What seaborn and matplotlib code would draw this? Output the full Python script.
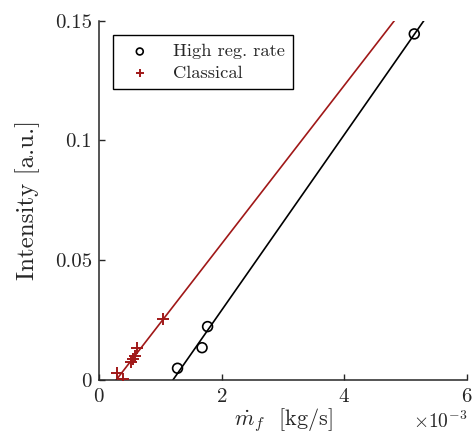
import numpy as np
import pandas as pd
import matplotlib
matplotlib.use("Agg")
import matplotlib.pyplot as plt
from matplotlib.ticker import ScalarFormatter, FuncFormatter
import seaborn as sns

# Measured fuel mass flow (kg/s, in units of 1e-3) and emission intensity
high_mdot = [1.28, 1.68, 1.77, 5.14]
high_int = [0.0049, 0.0135, 0.0223, 0.1445]
classic_mdot = [0.29, 0.39, 0.52, 0.56, 0.59, 0.62, 1.05]
classic_int = [0.0028, 0.0005, 0.0077, 0.0086, 0.0100, 0.0132, 0.0255]

series_labels = ["High reg. rate", "Classical"]
x_ticks = [0, 2, 4, 6]
y_ticks = [0, 0.05, 0.1, 0.15]

black = "#000000"
red = "#A01818"

sns.set_style("ticks")
plt.rcParams.update({
    "font.family": "serif",
    "font.serif": ["cmr10"],
    "mathtext.fontset": "cm",
    "axes.formatter.use_mathtext": True,
    "axes.unicode_minus": False,
})

scale = 1e-3
df_high = pd.DataFrame({"mdot": np.array(high_mdot) * scale, "I": high_int})
df_cls = pd.DataFrame({"mdot": np.array(classic_mdot) * scale, "I": classic_int})

fig = plt.figure(figsize=(4.74, 4.41), dpi=100)
ax = fig.add_axes([0.2089, 0.1383, 0.7764, 0.8147])

# least-squares fit lines across the full x range (clipped by the axes)
xs = np.array([0.0, 6.0]) * scale
for df, col in [(df_high, black), (df_cls, red)]:
    k, b = np.polyfit(df["mdot"], df["I"], 1)
    fit = pd.DataFrame({"mdot": xs, "I": k * xs + b})
    sns.lineplot(data=fit, x="mdot", y="I", ax=ax, color=col, lw=1.2,
                 legend=False)

sns.scatterplot(data=df_high, x="mdot", y="I", ax=ax, marker="o", s=50,
                facecolor="none", edgecolor=black, linewidth=1.2,
                label=series_labels[0], zorder=3)
sns.scatterplot(data=df_cls, x="mdot", y="I", ax=ax, marker="+", s=65,
                color=red, linewidth=1.4, label=series_labels[1], zorder=3)

ax.set_xlim(0, 6 * scale)
ax.set_ylim(0, 0.15)
ax.set_xticks(np.array(x_ticks) * scale)
ax.set_yticks(y_ticks)

fmt = ScalarFormatter(useMathText=True)
fmt.set_powerlimits((-2, 2))
ax.xaxis.set_major_formatter(fmt)
ax.yaxis.set_major_formatter(FuncFormatter(lambda v, p: f"{v:g}"))

for side in ["top", "right"]:
    ax.spines[side].set_visible(False)
for side in ["left", "bottom"]:
    ax.spines[side].set_linewidth(1.1)
    ax.spines[side].set_color("#262626")
ax.tick_params(direction="in", length=4, width=1.0, colors="#262626",
               labelsize=15, labelcolor="#262626")
ax.tick_params(axis="x", pad=6)
ax.tick_params(axis="y", pad=5)
ax.xaxis.get_offset_text().set_fontsize(14)

ax.set_xlabel(r"$\dot{m}_f$  [kg/s]", fontsize=16, labelpad=0)
ax.set_ylabel("Intensity [a.u.]", fontsize=18, labelpad=11)

leg = ax.legend(loc="upper left", bbox_to_anchor=(0.038, 0.96),
                borderaxespad=0, fontsize=13.3,
                frameon=True, fancybox=False, framealpha=1, edgecolor="black",
                handletextpad=0.8, borderpad=0.45, labelspacing=0.3,
                handlelength=2.0, markerscale=0.7)
leg.get_frame().set_linewidth(1.0)

fig.savefig("out.png", dpi=100)
